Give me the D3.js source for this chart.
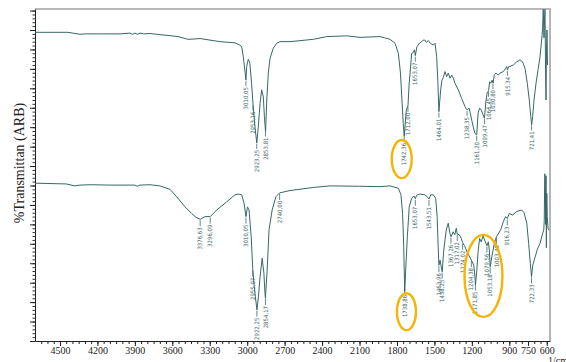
<!DOCTYPE html>
<html>
<head>
<meta charset="utf-8">
<script src="https://cdn.jsdelivr.net/npm/d3@7/dist/d3.min.js"></script>
<style>
  body { margin: 0; background: #fff; }
  svg { display: block; }
</style>
</head>
<body>
<svg id="chart" width="566" height="362"></svg>
<script>
// wavenumber (1/cm), transmittance (arbitrary units)
const topSpectrum = [
  [4700, 79.4], [4580, 79.4], [4436, 79.4], [4380, 79.1], [4340, 78.9], [4299, 79.0], [4179, 79.0],
  [4019, 79.0], [3940, 79.2], [3920, 78.9], [3899, 79.2], [3880, 78.9], [3859, 79.2], [3830, 79.0],
  [3779, 79.1], [3699, 78.8], [3634, 78.6], [3554, 78.3], [3474, 77.6], [3418, 77.7], [3378, 77.8],
  [3218, 77.0], [3098, 76.7], [3058, 76.1], [3044, 75.7], [3031, 73.1], [3010, 67.1], [3004, 70.6],
  [2991, 72.5], [2978, 71.4], [2965, 66.3], [2952, 60.3], [2938, 55.1], [2923, 50.9], [2911, 55.1],
  [2897, 61.1], [2884, 64.6], [2871, 62.8], [2862, 57.7], [2853, 53.8], [2843, 62.0], [2831, 68.9],
  [2817, 72.7], [2791, 75.3], [2764, 76.6], [2737, 77.0], [2657, 77.0], [2470, 77.6], [2363, 78.3],
  [2203, 78.5], [2096, 78.1], [1936, 78.3], [1900, 78.0], [1856, 77.6], [1816, 76.6], [1789, 74.0],
  [1772, 68.9], [1760, 62.0], [1750, 56.0], [1742, 52.6], [1736, 55.1], [1725, 59.4], [1712, 60.5],
  [1702, 66.3], [1682, 74.0], [1669, 74.2], [1660, 74.9], [1653, 73.4], [1640, 75.7], [1620, 76.6],
  [1602, 77.0], [1590, 77.4], [1576, 77.4], [1565, 76.8], [1549, 77.3], [1530, 76.5], [1509, 76.1],
  [1495, 76.6], [1482, 73.1], [1473, 67.1], [1464, 59.0], [1450, 64.6], [1440, 67.1], [1429, 67.8],
  [1415, 69.3], [1402, 68.0], [1389, 68.9], [1375, 67.6], [1362, 68.4], [1349, 67.6], [1335, 66.3],
  [1309, 64.6], [1282, 62.4], [1255, 60.3], [1238, 59.4], [1221, 59.9], [1201, 56.8], [1189, 55.1],
  [1175, 53.4], [1161, 53.0], [1150, 58.6], [1138, 59.9], [1125, 59.4], [1099, 57.3], [1088, 61.5],
  [1078, 63.7], [1066, 64.4], [1058, 66.7], [1048, 66.3], [1038, 67.1], [1030, 66.3], [1020, 68.5],
  [1007, 68.9], [988, 68.4], [975, 68.9], [948, 69.3], [930, 70.1], [921, 70.6], [915, 69.7],
  [905, 70.6], [895, 70.6], [868, 71.0], [841, 71.8], [814, 72.3], [793, 71.8], [774, 70.1],
  [756, 66.3], [740, 62.0], [728, 57.7], [721, 55.6], [713, 57.7], [702, 62.0], [686, 66.3],
  [668, 70.1], [654, 73.1], [641, 77.4], [634, 80.0], [628, 85.3], [622, 78.0], [618, 82.6],
  [614, 85.3], [610, 71.0], [606, 62.0], [602, 74.9], [598, 80.0], [594, 71.0]
];

const bottomSpectrum = [
  [4700, 40.6], [4580, 40.5], [4450, 40.4], [4380, 39.9], [4340, 40.1], [4250, 40.2], [4100, 40.1],
  [3900, 40.1], [3880, 39.8], [3860, 40.1], [3780, 40.2], [3700, 39.9], [3618, 39.0], [3565, 37.1],
  [3498, 34.5], [3445, 32.8], [3410, 31.8], [3376, 31.3], [3338, 32.0], [3296, 32.0], [3244, 33.7],
  [3164, 35.8], [3098, 37.6], [3071, 37.8], [3044, 37.6], [3025, 35.4], [3010, 32.0], [2998, 34.5],
  [2985, 33.7], [2968, 26.8], [2955, 18.3], [2945, 14.5], [2935, 11.5], [2922, 8.0], [2910, 11.4],
  [2897, 16.5], [2880, 21.3], [2866, 17.4], [2858, 12.5], [2854, 11.0], [2840, 18.3], [2825, 28.6],
  [2800, 33.7], [2770, 37.1], [2740, 38.1], [2657, 38.7], [2470, 39.5], [2337, 39.9], [2100, 39.8],
  [1936, 39.7], [1856, 39.9], [1789, 39.3], [1768, 37.6], [1755, 32.8], [1746, 24.3], [1738, 12.7],
  [1730, 18.3], [1717, 26.8], [1702, 34.5], [1682, 36.7], [1664, 37.3], [1653, 36.6], [1642, 37.5],
  [1616, 37.8], [1576, 37.6], [1560, 37.2], [1543, 36.5], [1530, 37.6], [1509, 37.6], [1490, 36.7],
  [1478, 32.0], [1470, 24.3], [1464, 19.5], [1455, 20.8], [1446, 19.2], [1438, 17.8], [1425, 23.4],
  [1405, 28.6], [1389, 30.3], [1376, 27.7], [1367, 26.8], [1351, 28.1], [1337, 27.3], [1325, 29.0],
  [1317, 27.5], [1300, 27.3], [1285, 26.4], [1274, 25.3], [1256, 24.3], [1234, 22.6], [1204, 20.8],
  [1185, 19.5], [1178, 17.5], [1171, 14.4], [1160, 18.3], [1150, 23.0], [1138, 26.4], [1125, 25.5],
  [1110, 27.0], [1092, 25.5], [1079, 24.5], [1068, 25.5], [1060, 23.4], [1053, 19.1], [1040, 21.7],
  [1020, 25.1], [1003, 26.8], [990, 27.5], [969, 28.6], [948, 30.7], [930, 32.0], [916, 31.5],
  [900, 32.8], [873, 32.4], [841, 33.3], [801, 33.7], [782, 33.0], [760, 30.3], [745, 25.1],
  [732, 20.0], [722, 16.5], [712, 19.5], [694, 21.5], [675, 23.6], [654, 25.1], [633, 27.7],
  [624, 28.6], [620, 31.0], [616, 43.0], [612, 42.0], [609, 30.0], [606, 42.5], [603, 24.0],
  [600, 38.0], [596, 32.0], [590, 29.0], [582, 28.5]
];

// labelled peaks (1/cm)
const topPeaks = [3010.05, 2953.16, 2923.25, 2853.81, 1742.36, 1712.00, 1653.07, 1464.01,
  1238.35, 1161.20, 1099.47, 1066.45, 1030.80, 915.34, 721.41];
const bottomPeaks = [3376.63, 3296.09, 3010.05, 2955.07, 2922.25, 2854.17, 2740.00, 1738.86,
  1653.07, 1543.51, 1463.96, 1438.25, 1367.26, 1317.02, 1274.02, 1204.38, 1171.85, 1079.56,
  1053.18, 1003.46, 916.23, 722.33];

const xTickValues = [4500, 4200, 3900, 3600, 3300, 3000, 2700, 2400, 2100, 1800, 1500, 1200, 900, 750, 600];

// circled regions: [wn from, wn to, T low, T high]
const highlights = [
  [1842, 1682, 41.9, 51.7],
  [1800, 1648, 2.8, 12.3],
  [1259, 955, 6.2, 27.3]
];

const svg = d3.select("#chart");
const plotLeft = 35, plotRight = 550, plotTop = 9, plotBottom = 341;

const x = d3.scaleLinear().domain([4700, 574]).range([plotLeft, plotRight]);
const y = d3.scaleLinear().domain([0, 85.4]).range([plotBottom, plotTop]);

const lineColor = "#366966";

// frame (top and right in grey)
svg.append("path")
  .attr("d", `M${plotLeft},${plotTop}H${plotRight}V${plotBottom}`)
  .attr("fill", "none")
  .attr("stroke", "#a3a3a3")
  .attr("stroke-width", 1.6);

// x axis: minor then major ticks
svg.append("g")
  .attr("transform", `translate(0,${plotBottom})`)
  .call(d3.axisBottom(x).tickValues(d3.range(4650, 574, -50)).tickSize(3).tickSizeOuter(0).tickFormat(""))
  .call(g => g.selectAll("line").attr("stroke", "#222"))
  .call(g => g.select(".domain").attr("stroke", "#222"));

svg.append("g")
  .attr("transform", `translate(0,${plotBottom})`)
  .call(d3.axisBottom(x).tickValues(xTickValues).tickSize(5).tickPadding(1).tickFormat(d3.format("d")))
  .call(g => g.select(".domain").remove())
  .call(g => g.selectAll("line").attr("stroke", "#222"))
  .call(g => g.selectAll("text")
    .attr("fill", "#222")
    .style("font-family", "'Liberation Serif', 'Times New Roman', serif")
    .style("font-size", "10px"));

// y axis without labels
svg.append("g")
  .attr("transform", `translate(${plotLeft},0)`)
  .call(d3.axisLeft(y).tickValues(d3.range(0, 85.4, 1)).tickSize(2.5).tickSizeOuter(0).tickFormat(""))
  .call(g => g.selectAll("line").attr("stroke", "#333"))
  .call(g => g.select(".domain").attr("stroke", "#222"));

svg.append("g")
  .attr("transform", `translate(${plotLeft},0)`)
  .call(d3.axisLeft(y).tickValues(d3.range(0, 85.4, 5)).tickSize(5).tickFormat(""))
  .call(g => g.select(".domain").remove())
  .call(g => g.selectAll("line").attr("stroke", "#222"));

svg.append("text")
  .attr("transform", "translate(19,163) rotate(-90)")
  .attr("text-anchor", "middle")
  .attr("dy", "0.35em")
  .attr("fill", "#222")
  .style("font-family", "'Liberation Serif', 'Times New Roman', serif")
  .style("font-size", "14px")
  .text("%Transmittan (ARB)");

svg.append("text")
  .attr("x", 548)
  .attr("y", 364)
  .attr("fill", "#222")
  .style("font-family", "'Liberation Serif', 'Times New Roman', serif")
  .style("font-size", "10px")
  .text("1/cm");

// spectra
const line = d3.line().x(d => x(d[0])).y(d => y(d[1]));

[topSpectrum, bottomSpectrum].forEach(s => {
  svg.append("path")
    .datum(s)
    .attr("fill", "none")
    .attr("stroke", lineColor)
    .attr("stroke-width", 1)
    .attr("stroke-linejoin", "round")
    .attr("d", line);
});

function valueAt(series, wn) {
  for (let i = 0; i < series.length - 1; i++) {
    const a = series[i], b = series[i + 1];
    if (wn <= a[0] && wn >= b[0]) {
      const t = (a[0] - wn) / (a[0] - b[0]);
      return a[1] + t * (b[1] - a[1]);
    }
  }
  return series[series.length - 1][1];
}

const fmt = v => v.toFixed(2).replace(".", ",");

function drawPeaks(series, peaks, gap) {
  const g = svg.append("g");
  peaks.forEach(wn => {
    const px = x(wn), py = y(valueAt(series, wn));
    g.append("line")
      .attr("x1", px).attr("x2", px)
      .attr("y1", py + 1).attr("y2", py + gap - 1)
      .attr("stroke", lineColor)
      .attr("stroke-width", 0.8);
    g.append("text")
      .attr("transform", `translate(${px},${py + gap}) rotate(-90)`)
      .attr("text-anchor", "end")
      .attr("dy", "0.35em")
      .attr("fill", "#3b6867")
      .style("font-family", "'DejaVu Sans Condensed', 'Liberation Sans Narrow', sans-serif")
      .style("font-stretch", "condensed")
      .style("font-size", "6px")
      .text(fmt(wn));
  });
}

drawPeaks(topSpectrum, topPeaks, 7);
drawPeaks(bottomSpectrum, bottomPeaks, 8);

// orange circles
highlights.forEach(h => {
  const x0 = x(h[0]), x1 = x(h[1]), y0 = y(h[3]), y1 = y(h[2]);
  svg.append("ellipse")
    .attr("cx", (x0 + x1) / 2)
    .attr("cy", (y0 + y1) / 2)
    .attr("rx", Math.abs(x1 - x0) / 2)
    .attr("ry", Math.abs(y1 - y0) / 2)
    .attr("fill", "none")
    .attr("stroke", "#f5b302")
    .attr("stroke-width", 2.4);
});
</script>
</body>
</html>
